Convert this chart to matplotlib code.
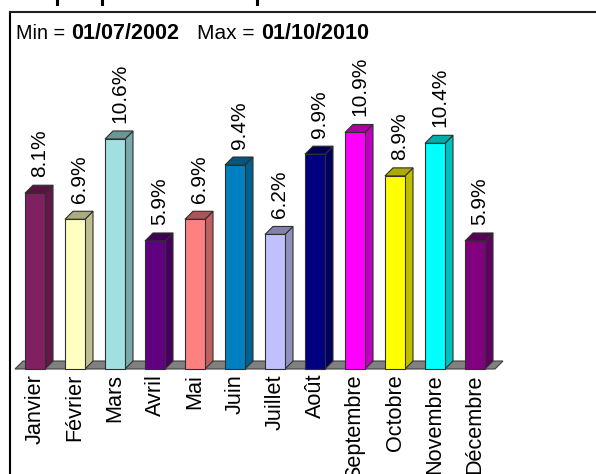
import matplotlib
matplotlib.use('Agg')
import matplotlib.pyplot as plt
from matplotlib.patches import Polygon
from matplotlib.lines import Line2D
from matplotlib.colors import to_rgb

mois = ['Janvier', 'Février', 'Mars', 'Avril', 'Mai', 'Juin', 'Juillet', 'Août',
        'Septembre', 'Octobre', 'Novembre', 'Décembre']
valeurs = [8.1, 6.9, 10.6, 5.9, 6.9, 9.4, 6.2, 9.9, 10.9, 8.9, 10.4, 5.9]
couleurs = ['#802060', '#FFFFC0', '#A0E0E0', '#600080', '#FF8080', '#0080C0',
            '#C0C0FF', '#000080', '#FF00FF', '#FFFF00', '#00FFFF', '#800080']

plt.rcParams['font.family'] = ['Liberation Sans', 'DejaVu Sans']

W, H = 596, 474
fig = plt.figure(figsize=(W / 100, H / 100), dpi=100)
ax = fig.add_axes([0, 0, 1, 1])

# 40 px par mois, 21.7 px par %, base a y=369
px_x = 40
px_y = 21.7
ax.set_xlim(-35 / px_x, (W - 35) / px_x)
ax.set_ylim((369 - H) / px_y, 369 / px_y)
ax.axis('off')

demi = 10 / px_x
dx = 8 / px_x
dy = 8 / px_y


def fonce(c, f):
    return tuple(v * f for v in to_rgb(c))


# sol
ax.add_patch(Polygon([(-0.5, 0), (len(mois) - 0.5, 0), (len(mois) - 0.5 + dx, dy), (-0.5 + dx, dy)],
                     facecolor='#808080', edgecolor='#404040', lw=0.8, zorder=1))

for i, v in enumerate(valeurs):
    c = couleurs[i]
    g, d = i - demi, i + demi
    ax.add_patch(Polygon([(d, 0), (d + dx, dy), (d + dx, v + dy), (d, v)],
                         facecolor=fonce(c, 0.75), edgecolor='#303030', lw=0.8, zorder=2))
    ax.add_patch(Polygon([(g, v), (d, v), (d + dx, v + dy), (g + dx, v + dy)],
                         facecolor=fonce(c, 0.67), edgecolor='#303030', lw=0.8, zorder=2))
    ax.add_patch(Polygon([(g, 0), (d, 0), (d, v), (g, v)],
                         facecolor=c, edgecolor='#303030', lw=0.8, zorder=3))
    ax.annotate('%.1f%%' % v, (i, v + dy), xytext=(5, 8), textcoords='offset pixels',
                rotation=90, ha='center', va='bottom', fontsize=15, color='#000000', zorder=4)
    ax.annotate(mois[i], (i, 0), xytext=(0, -5), textcoords='offset pixels',
                rotation=90, ha='center', va='top', fontsize=15.6, color='#000000', zorder=4)

# cadre
fig.add_artist(Line2D([10 / W, 10 / W], [0, 1 - 12 / H], color='black', lw=1.5))
fig.add_artist(Line2D([10 / W, 1], [1 - 12 / H, 1 - 12 / H], color='#202020', lw=1.5))

# bas du titre coupe par le bord de l'image
for x in [57, 102, 257]:
    fig.add_artist(Line2D([x / W, x / W], [1, 1 - 4 / H], color='black', lw=2.2))

fig.text(16 / W, 1 - 39 / H, 'Min =', fontsize=14.2, va='baseline')
fig.text(71 / W, 1 - 39 / H, '01/07/2002', fontsize=15.5, fontweight='bold', va='baseline')
fig.text(197 / W, 1 - 39 / H, 'Max =', fontsize=15, va='baseline')
fig.text(261 / W, 1 - 39 / H, '01/10/2010', fontsize=15.5, fontweight='bold', va='baseline')

fig.savefig('out.png', dpi=100)
